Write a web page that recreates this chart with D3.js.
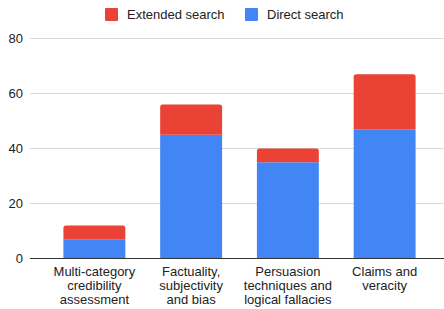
<!DOCTYPE html>
<html>
<head>
<meta charset="utf-8">
<script src="https://cdn.jsdelivr.net/npm/d3@7"></script>
<style>
  body { margin: 0; background: #fff; }
  text { font-family: "Liberation Sans", Arial, sans-serif; fill: #222; }
</style>
</head>
<body>
<div id="chart"></div>
<script>
const categories = [
  ["Multi-category", "credibility", "assessment"],
  ["Factuality,", "subjectivity", "and bias"],
  ["Persuasion", "techniques and", "logical fallacies"],
  ["Claims and", "veracity"]
];
const directSearch = [7, 45, 35, 47];
const extendedSearch = [5, 11, 5, 20];
const seriesNames = ["Extended search", "Direct search"];
const seriesColors = ["#ea4335", "#4285f4"];
const yTicks = [0, 20, 40, 60, 80];

const w = 444, h = 309;
const svg = d3.select("#chart").append("svg")
  .attr("width", w).attr("height", h);

const x = d3.scaleBand()
  .domain(d3.range(categories.length))
  .range([46, 433])
  .paddingInner(0.36)
  .paddingOuter(0.18);

const y = d3.scaleLinear().domain([0, 80]).range([258.5, 38.5]);

// gridlines
svg.append("g")
  .selectAll("line")
  .data(yTicks.slice(1))
  .enter().append("line")
  .attr("x1", 30).attr("x2", w)
  .attr("y1", d => y(d)).attr("y2", d => y(d))
  .attr("stroke", "#d9d9d9");

// y labels
svg.append("g")
  .selectAll("text")
  .data(yTicks)
  .enter().append("text")
  .attr("x", 23).attr("y", d => y(d) + 4.5)
  .attr("text-anchor", "end")
  .attr("font-size", 13)
  .text(d => d);

// stacked data
const rows = categories.map((c, i) => ({ i, direct: directSearch[i], extended: extendedSearch[i] }));
const stack = d3.stack().keys(["direct", "extended"])(rows);

const r = 2.5;
function topRounded(x0, y0, bw, bh) {
  return `M${x0},${y0 + bh}V${y0 + r}Q${x0},${y0} ${x0 + r},${y0}H${x0 + bw - r}Q${x0 + bw},${y0} ${x0 + bw},${y0 + r}V${y0 + bh}Z`;
}

// direct (blue)
svg.append("g")
  .selectAll("rect")
  .data(stack[0])
  .enter().append("rect")
  .attr("x", d => x(d.data.i))
  .attr("y", d => y(d[1]))
  .attr("width", x.bandwidth())
  .attr("height", d => y(d[0]) - y(d[1]))
  .attr("fill", seriesColors[1]);

// extended (red), rounded top
svg.append("g")
  .selectAll("path")
  .data(stack[1])
  .enter().append("path")
  .attr("d", d => topRounded(x(d.data.i), y(d[1]), x.bandwidth(), y(d[0]) - y(d[1])))
  .attr("fill", seriesColors[0]);

// baseline
svg.append("line")
  .attr("x1", 30).attr("x2", w)
  .attr("y1", y(0)).attr("y2", y(0))
  .attr("stroke", "#333");

// x labels
const lbl = svg.append("g")
  .selectAll("text")
  .data(categories)
  .enter().append("text")
  .attr("text-anchor", "middle")
  .attr("font-size", 13)
  .attr("x", (d, i) => x(i) + x.bandwidth() / 2)
  .attr("y", 276);
lbl.selectAll("tspan")
  .data(d => d)
  .enter().append("tspan")
  .attr("x", function() { return d3.select(this.parentNode).attr("x"); })
  .attr("dy", (d, j) => j === 0 ? 0 : 14)
  .text(d => d);

// legend
const legendX = [105, 245];
const leg = svg.append("g")
  .selectAll("g")
  .data(seriesNames)
  .enter().append("g")
  .attr("transform", (d, i) => `translate(${legendX[i]},8)`);
leg.append("rect")
  .attr("width", 13).attr("height", 13)
  .attr("rx", 1)
  .attr("fill", (d, i) => seriesColors[i]);
leg.append("text")
  .attr("x", 22).attr("y", 11)
  .attr("font-size", 13)
  .text(d => d);
</script>
</body>
</html>
